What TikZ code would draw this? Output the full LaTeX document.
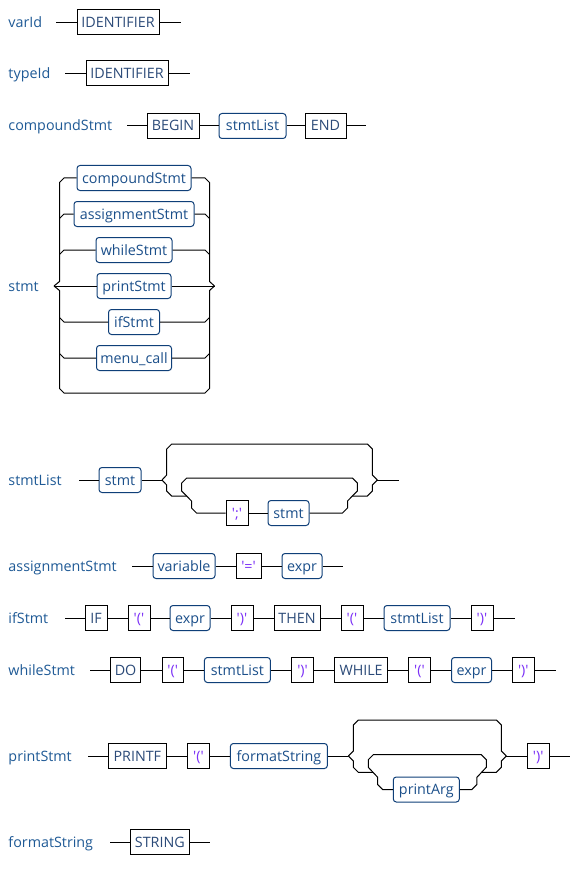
\documentclass[tikz,border=0pt]{standalone}
\usepackage{fontspec}
\setmainfont{Open Sans}
\usetikzlibrary{calc}
\definecolor{labelblue}{HTML}{1F5A96}
\definecolor{ntblue}{HTML}{1B4F8A}
\definecolor{ntborder}{HTML}{0F3F78}
\definecolor{termblue}{HTML}{2B4A78}
\definecolor{litpurple}{HTML}{7B2FF7}
\newcommand\rrfont{\fontsize{14.3}{17}\selectfont}
\newcommand\sq{\textquotesingle}
% box from x1 to x2 centred on row y: style, name, x1, x2, y, text
\newcommand\bx[6]{\node[#1, minimum width={(#4)-(#3)}] (#2) at ({((#3)+(#4))/2},#5) {#6};}
\begin{document}
\begin{tikzpicture}[x=1pt,y=-1pt,line width=1pt,line join=miter,
  txt/.style={inner sep=0pt,text height=13.5pt,text depth=3.5pt,font=\rrfont},
  rulename/.style={txt,anchor=west,text=labelblue},
  termbox/.style={txt,draw=black,minimum height=25,text=termblue},
  litbox/.style={termbox,text=litpurple},
  ntbox/.style={txt,draw=ntborder,rounded corners=3pt,minimum height=25,text=ntblue}]
\useasboundingbox[fill=white] (0,0) rectangle (581,869);

% ---------- varId
\node[rulename] (rVar) at (8,22.5) {varId};
\coordinate (va0) at (56,22.5);
\bx{termbox}{va1}{77}{159}{22.5}{IDENTIFIER}
\coordinate (va9) at (181,22.5);
\draw (va0) -- (va1.west) (va1.east) -- (va9);

% ---------- typeId
\node[rulename] (rType) at (8,73.5) {typeId};
\coordinate (ty0) at (65,73.5);
\bx{termbox}{ty1}{86}{168}{73.5}{IDENTIFIER}
\coordinate (ty9) at (190,73.5);
\draw (ty0) -- (ty1.west) (ty1.east) -- (ty9);

% ---------- compoundStmt
\node[rulename] (rComp) at (8,126) {compoundStmt};
\coordinate (cs0) at (127,126);
\bx{termbox}{cs1}{147}{199}{126}{BEGIN}
\bx{ntbox}{cs2}{219}{286}{126}{stmtList}
\bx{termbox}{cs3}{305}{346}{126}{END}
\coordinate (cs9) at (366,126);
\draw (cs0) -- (cs1.west) (cs1.east) -- (cs2.west) (cs2.east) -- (cs3.west) (cs3.east) -- (cs9);

% ---------- stmt (choice)
\node[rulename] (rStmt) at (8,286) {stmt};
\coordinate (stL) at (54,286);
\coordinate (stR) at (214.5,286);
\bx{ntbox}{st1}{77}{191}{178}{compoundStmt}
\bx{ntbox}{st2}{74}{194}{214}{assignmentStmt}
\bx{ntbox}{st3}{96}{172}{250}{whileStmt}
\bx{ntbox}{st4}{97}{171}{286}{printStmt}
\bx{ntbox}{st5}{108.5}{159.5}{322}{ifStmt}
\bx{ntbox}{st6}{96.5}{171.5}{358}{menu\_call}
% left side of the choice
\draw (stL) -- (59.5,281.5) -- (59.5,182.5) -- (64,178) -- (st1.west);
\draw (59.5,218.5) -- (64,214) -- (st2.west);
\draw (59.5,254.5) -- (64,250) -- (st3.west);
\draw (stL) -- (st4.west);
\draw (59.5,317.5) -- (64,322) -- (st5.west);
\draw (59.5,353.5) -- (64,358) -- (st6.west);
% right side of the choice
\draw (st1.east) -- (205,178) -- (209.5,182.5) -- (209.5,281.5) -- (stR);
\draw (st2.east) -- (205,214) -- (209.5,218.5);
\draw (st3.east) -- (205,250) -- (209.5,254.5);
\draw (st4.east) -- (stR);
\draw (st5.east) -- (205,322) -- (209.5,317.5);
\draw (st6.east) -- (205,358) -- (209.5,353.5);
% empty alternative
\draw (stL) -- (59.5,290.5) -- (59.5,388.5) -- (64,393) -- (205,393) -- (209.5,388.5) -- (209.5,290.5) -- (stR);

% ---------- stmtList
\node[rulename] (rList) at (8,480) {stmtList};
\coordinate (sl0) at (79,480);
\bx{ntbox}{sl1}{99}{141}{480}{stmt}
\coordinate (slL) at (162,480);
\coordinate (slR) at (377.3,480);
\bx{litbox}{sl2}{226}{248}{513}{\sq;\sq}
\bx{ntbox}{sl3}{268}{309}{513}{stmt}
\coordinate (sl9) at (399,480);
\draw (sl0) -- (sl1.west) (sl1.east) -- (slL);
% skip path over the top
\draw (slL) -- (166.7,475) -- (166.7,449) -- (171.7,444) -- (367.3,444) -- (372.3,449) -- (372.3,475) -- (slR);
% lower branch into the loop
\draw (slL) -- (166.7,485) -- (166.7,491) -- (171.7,496) -- (186.6,496);
\draw (352.4,496) -- (367.3,496) -- (372.3,491) -- (372.3,485) -- (slR);
% repeated part and its loop back
\draw (sl2.west) -- (196.5,513) -- (191.5,508) -- (191.5,501) -- (181.7,491) -- (181.7,483) -- (186.7,478)
      -- (352.3,478) -- (357.3,483) -- (357.3,491) -- (347.5,501) -- (347.5,508) -- (342.5,513) -- (sl3.east);
\draw (sl2.east) -- (sl3.west);
\draw (slR) -- (sl9);

% ---------- assignmentStmt
\node[rulename] (rAssign) at (8,566) {assignmentStmt};
\coordinate (as0) at (132,566);
\bx{ntbox}{as1}{153}{215}{566}{variable}
\bx{litbox}{as2}{236}{261}{566}{\sq=\sq}
\bx{ntbox}{as3}{282}{322}{566}{expr}
\coordinate (as9) at (343,566);
\draw (as0) -- (as1.west) (as1.east) -- (as2.west) (as2.east) -- (as3.west) (as3.east) -- (as9);

% ---------- ifStmt
\node[rulename] (rIf) at (8,618) {ifStmt};
\coordinate (if0) at (65,618);
\bx{termbox}{if1}{85}{107}{618}{IF}
\bx{litbox}{if2}{128}{150}{618}{\sq(\sq}
\bx{ntbox}{if3}{170}{210}{618}{expr}
\bx{litbox}{if4}{231}{253}{618}{\sq)\sq}
\bx{termbox}{if5}{274}{320}{618}{THEN}
\bx{litbox}{if6}{341}{363}{618}{\sq(\sq}
\bx{ntbox}{if7}{384}{450}{618}{stmtList}
\bx{litbox}{if8}{471}{493}{618}{\sq)\sq}
\coordinate (if9) at (515,618);
\draw (if0) -- (if1.west) (if1.east) -- (if2.west) (if2.east) -- (if3.west) (if3.east) -- (if4.west)
      (if4.east) -- (if5.west) (if5.east) -- (if6.west) (if6.east) -- (if7.west) (if7.east) -- (if8.west)
      (if8.east) -- (if9);

% ---------- whileStmt
\node[rulename] (rWhile) at (8,670) {whileStmt};
\coordinate (wh0) at (90,670);
\bx{termbox}{wh1}{110.4}{140.7}{670}{DO}
\bx{litbox}{wh2}{162}{183.3}{670}{\sq(\sq}
\bx{ntbox}{wh3}{204.4}{270.4}{670}{stmtList}
\bx{litbox}{wh4}{291.5}{313.7}{670}{\sq)\sq}
\bx{termbox}{wh5}{334.4}{387.8}{670}{WHILE}
\bx{litbox}{wh6}{408.5}{430.4}{670}{\sq(\sq}
\bx{ntbox}{wh7}{451.5}{491.5}{670}{expr}
\bx{litbox}{wh8}{512.2}{534.4}{670}{\sq)\sq}
\coordinate (wh9) at (555.6,670);
\draw (wh0) -- (wh1.west) (wh1.east) -- (wh2.west) (wh2.east) -- (wh3.west) (wh3.east) -- (wh4.west)
      (wh4.east) -- (wh5.west) (wh5.east) -- (wh6.west) (wh6.east) -- (wh7.west) (wh7.east) -- (wh8.west)
      (wh8.east) -- (wh9);

% ---------- printStmt
\node[rulename] (rPrint) at (8,756) {printStmt};
\coordinate (pr0) at (88,756);
\bx{termbox}{pr1}{108}{166.7}{756}{PRINTF}
\bx{litbox}{pr2}{187.4}{209.6}{756}{\sq(\sq}
\bx{ntbox}{pr3}{230.4}{327.4}{756}{formatString}
\coordinate (prL) at (348.3,756);
\coordinate (prR) at (506.3,756);
\bx{ntbox}{pr4}{393.3}{459.3}{789.5}{printArg}
\bx{litbox}{pr5}{527}{549.3}{756}{\sq)\sq}
\coordinate (pr9) at (570.4,756);
\draw (pr0) -- (pr1.west) (pr1.east) -- (pr2.west) (pr2.east) -- (pr3.west) (pr3.east) -- (prL);
% skip path over the top
\draw (prL) -- (353.3,751) -- (353.3,725) -- (358.3,720) -- (496.3,720) -- (501.3,725) -- (501.3,751) -- (prR);
% lower branch into the loop
\draw (prL) -- (353.3,761) -- (353.3,767.3) -- (358.3,772.3) -- (373,772.3);
\draw (481.6,772.3) -- (496.3,772.3) -- (501.3,767.3) -- (501.3,761) -- (prR);
% repeated argument and its loop back
\draw (pr4.west) -- (382.7,789.5) -- (377.7,784.5) -- (377.7,777.3) -- (368.3,767.3) -- (368.3,759.7) -- (373.3,754.7)
      -- (481.3,754.7) -- (486.3,759.7) -- (486.3,767.3) -- (476.9,777.3) -- (476.9,784.5) -- (471.9,789.5) -- (pr4.east);
\draw (prR) -- (pr5.west) (pr5.east) -- (pr9);

% ---------- formatString
\node[rulename] (rFormat) at (8,842) {formatString};
\coordinate (fs0) at (110.4,842);
\bx{termbox}{fs1}{130.4}{189.3}{842}{STRING}
\coordinate (fs9) at (210.4,842);
\draw (fs0) -- (fs1.west) (fs1.east) -- (fs9);
\end{tikzpicture}
\end{document}
